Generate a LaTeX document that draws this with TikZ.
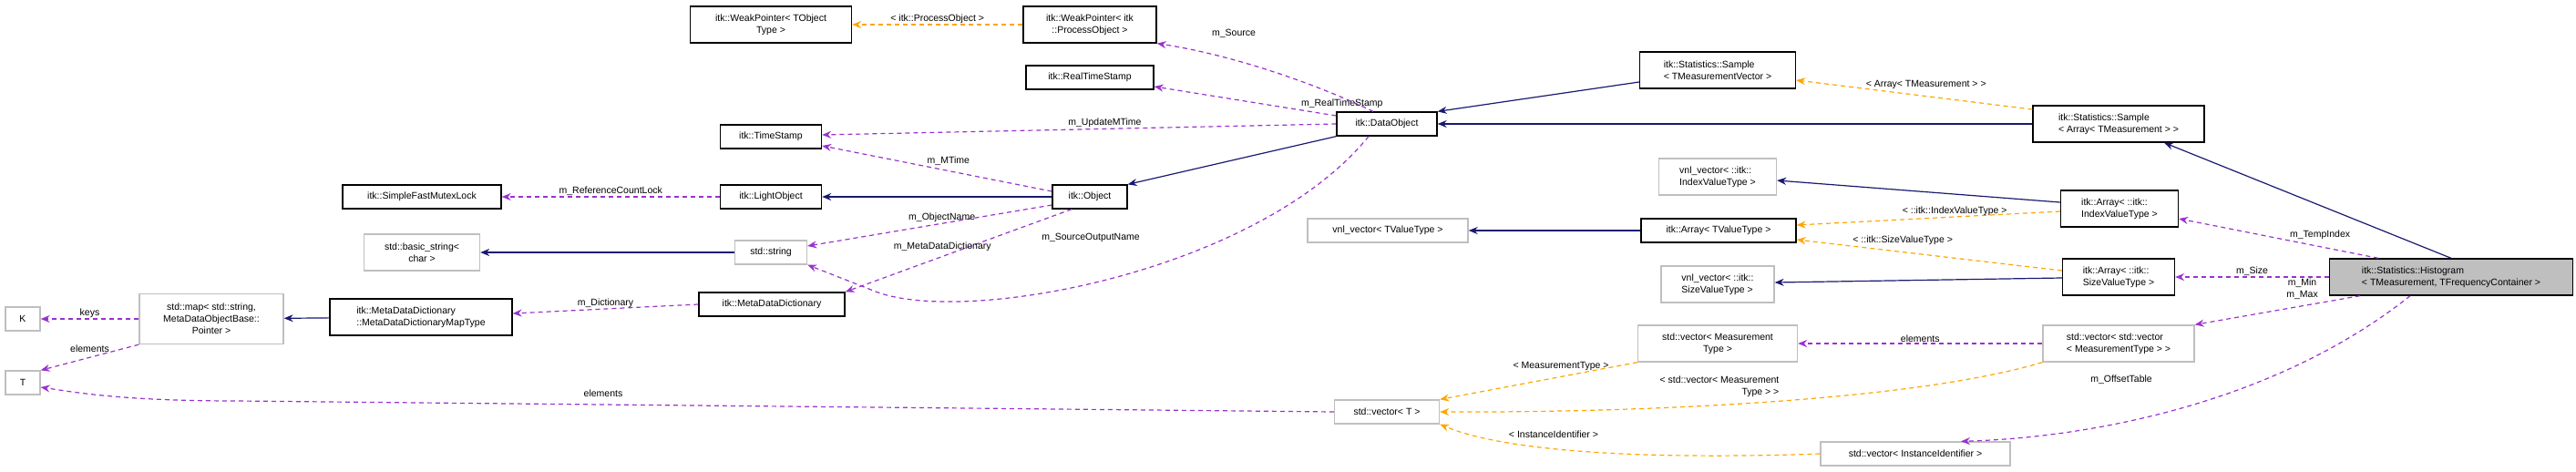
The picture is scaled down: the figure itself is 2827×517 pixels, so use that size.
\documentclass[tikz,border=0pt]{standalone}
\usepackage{fontspec}
\setmainfont{Liberation Sans}
\usetikzlibrary{arrows.meta}
\definecolor{inh}{HTML}{191970}
\definecolor{use}{HTML}{9A32CD}
\definecolor{tpl}{HTML}{FFA500}
\definecolor{gb}{HTML}{BFBFBF}
\begin{document}
\begin{tikzpicture}[x=1pt,y=-1pt,
  box/.style={draw=black,line width=1.3pt,inner sep=0pt,font=\fontsize{10.5}{13}\selectfont,align=center},
  gbox/.style={box,draw=gb},
  lab/.style={font=\fontsize{10.5}{13}\selectfont,inner sep=1pt,align=center},
  tip/.style={-{Stealth[length=10pt,width=8pt]}},
  inhe/.style={tip,draw=inh,line width=1.2pt},
  usee/.style={tip,draw=use,dashed,dash pattern=on 5pt off 4pt,line width=1.2pt},
  tple/.style={tip,draw=tpl,dashed,dash pattern=on 5pt off 4pt,line width=1.2pt}]
\useasboundingbox (0,0) rectangle (2827,517);
% nodes
\node[box,minimum width=177,minimum height=40] (wpt) at (846,27) {itk::WeakPointer< TObject\\Type >};
\node[box,minimum width=146,minimum height=40] (wpp) at (1196,27) {itk::WeakPointer< itk\\::ProcessObject >};
\node[box,minimum width=140,minimum height=26] (rts) at (1196,85) {itk::RealTimeStamp};
\node[box,minimum width=111,minimum height=26] (ts) at (846,150) {itk::TimeStamp};
\node[box,minimum width=110,minimum height=26] (dobj) at (1522,136) {itk::DataObject};
\node[box,minimum width=174,minimum height=26] (mutex) at (463,216) {itk::SimpleFastMutexLock};
\node[box,minimum width=111,minimum height=26] (lobj) at (846,216) {itk::LightObject};
\node[box,minimum width=82,minimum height=26] (obj) at (1196,216) {itk::Object};
\node[gbox,minimum width=127,minimum height=40] (bstr) at (463,277) {std::basic\_string<\\char >};
\node[gbox,minimum width=79,minimum height=26] (str) at (846,277) {std::string};
\node[box,minimum width=160,minimum height=26] (mdd) at (847,334) {itk::MetaDataDictionary};
\node[box,minimum width=200,minimum height=40,align=left] (mt) at (462,348) {itk::MetaDataDictionary\\::MetaDataDictionaryMapType};
\node[gbox,minimum width=158,minimum height=55] (map) at (232,350) {std::map< std::string,\\MetaDataObjectBase::\\Pointer >};
\node[gbox,minimum width=38,minimum height=26] (K) at (25,350) {K};
\node[gbox,minimum width=38,minimum height=26] (T) at (25,420) {T};
\node[gbox,minimum width=176,minimum height=26] (vtv) at (1523,253) {vnl\_vector< TValueType >};
\node[gbox,minimum width=115,minimum height=26] (vecT) at (1522,452) {std::vector< T >};
\node[box,minimum width=171,minimum height=40,align=left] (stmv) at (1885,77) {itk::Statistics::Sample\\< TMeasurementVector >};
\node[gbox,minimum width=129,minimum height=40,align=left] (vidx) at (1885,194) {vnl\_vector< ::itk::\\IndexValueType >};
\node[box,minimum width=170,minimum height=26] (atv) at (1886,253) {itk::Array< TValueType >};
\node[gbox,minimum width=124,minimum height=40,align=left] (vsz) at (1885,312) {vnl\_vector< ::itk::\\SizeValueType >};
\node[gbox,minimum width=175,minimum height=40] (vmt) at (1885,377) {std::vector< Measurement\\Type >};
\node[box,minimum width=188,minimum height=40,align=left] (sarr) at (2325,136) {itk::Statistics::Sample\\< Array< TMeasurement > >};
\node[box,minimum width=129,minimum height=40,align=left] (aidx) at (2326,229) {itk::Array< ::itk::\\IndexValueType >};
\node[box,minimum width=123,minimum height=40,align=left] (asz) at (2325,304) {itk::Array< ::itk::\\SizeValueType >};
\node[box,fill=gb,minimum width=267,minimum height=40,align=left] (hist) at (2690,304) {itk::Statistics::Histogram\\< TMeasurement, TFrequencyContainer >};
\node[gbox,minimum width=166,minimum height=40,align=left] (vv) at (2325,377) {std::vector< std::vector\\< MeasurementType > >};
\node[gbox,minimum width=208,minimum height=26] (vii) at (2102,498) {std::vector< InstanceIdentifier >};
% inheritance
\draw[inhe] (obj) -- (lobj);
\draw[inhe] (dobj.south west) -- (obj.north east);
\draw[inhe] (stmv.west|-0,90) -- (dobj.north east);
\draw[inhe] (sarr.west) -- (dobj.east);
\draw[inhe] (hist.north) -- ([xshift=50pt]sarr.south);
\draw[inhe] (aidx.west|-0,222) -- (vidx.east|-0,198);
\draw[inhe] (atv) -- (vtv);
\draw[inhe] (asz.west|-0,305) -- (vsz.east|-0,310);
\draw[inhe] (str) -- (bstr);
\draw[inhe] (mt) -- (map);
% templates
\draw[tple] (wpp.west) -- node[lab,above]{< itk::ProcessObject >} (wpt.east);
\draw[tple] (sarr.west|-0,120) -- node[lab,above,pos=0.45,yshift=6pt]{< Array< TMeasurement > >} (stmv.east|-0,88);
\draw[tple] (aidx.west|-0,232) -- node[lab,above,pos=0.4]{< ::itk::IndexValueType >} (atv.east|-0,247);
\draw[tple] (asz.west|-0,297) -- node[lab,above,pos=0.6,yshift=6pt]{< ::itk::SizeValueType >} (atv.east|-0,263);
\draw[tple] (vmt.south west) -- node[lab,left,pos=0.1,xshift=-8pt]{< MeasurementType >} (vecT.north east);
\draw[tple] (vv.south west) .. controls (2100,440) and (1800,453) .. (vecT.east);
\node[lab,align=right] (lvv) at (1887,424) {< std::vector< Measurement\\Type > >};
\draw[tple] (vii.west) .. controls (1800,505) and (1650,495) .. (vecT.south east);
\node[lab] (lii) at (1705,477) {< InstanceIdentifier >};
% usage
\draw[usee] ([xshift=-15pt]dobj.north) .. controls (1440,90) and (1350,60) .. (wpp.south east);
\node[lab] (lsrc) at (1354,37) {m\_Source};
\draw[usee] (dobj.west|-0,127) -- node[lab,above right,pos=0.2]{m\_RealTimeStamp} (rts.east|-0,95);
\draw[usee] (dobj.west) -- node[lab,above,pos=0.45]{m\_UpdateMTime} (ts.east|-0,148);
\draw[usee] (obj.west|-0,210) -- node[lab,above,pos=0.45,yshift=4pt]{m\_MTime} (ts.east|-0,160);
\draw[usee] (lobj) -- node[lab,above]{m\_ReferenceCountLock} (mutex);
\draw[usee] (obj.west|-0,225) -- node[lab,above,pos=0.45]{m\_ObjectName} (str.east|-0,270);
\draw[usee] ([xshift=-20pt]obj.south) -- node[lab,pos=0.45,xshift=-30pt]{m\_MetaDataDictionary} (mdd.north east);
\draw[usee] ([xshift=-20pt]dobj.south) .. controls (1380,300) and (1050,360) .. (956,318) -- (str.south east);
\node[lab] (lson) at (1197,261) {m\_SourceOutputName};
\draw[usee] (mdd.west) -- node[lab,above]{m\_Dictionary} (mt.east|-0,344);
\draw[usee] (map.west) -- node[lab,above]{keys} (K.east);
\draw[usee] (map.south west) -- node[lab,above,pos=0.5,yshift=4pt]{elements} (T.north east);
\draw[usee] (vecT.west) -- (260,440) .. controls (130,440) and (80,430) .. (T.east|-0,425);
\node[lab] (lel) at (662,432) {elements};
\draw[usee] (vv.west) -- node[lab,above]{elements} (vmt.east);
\draw[usee] ([xshift=-80pt]hist.north) -- node[lab,above right,pos=0.45]{m\_TempIndex} (aidx.east|-0,240);
\draw[usee] (hist.west) -- node[lab,above]{m\_Size} (asz.east);
\draw[usee] ([xshift=-100pt]hist.south) -- node[lab,above,pos=0.35,yshift=6pt]{m\_Min\\m\_Max} (vv.north east);
\draw[usee] ([xshift=-45pt]hist.south) .. controls (2500,440) and (2300,480) .. ([xshift=50pt]vii.north);
\node[lab] (lot) at (2328,417) {m\_OffsetTable};
\end{tikzpicture}
\end{document}
